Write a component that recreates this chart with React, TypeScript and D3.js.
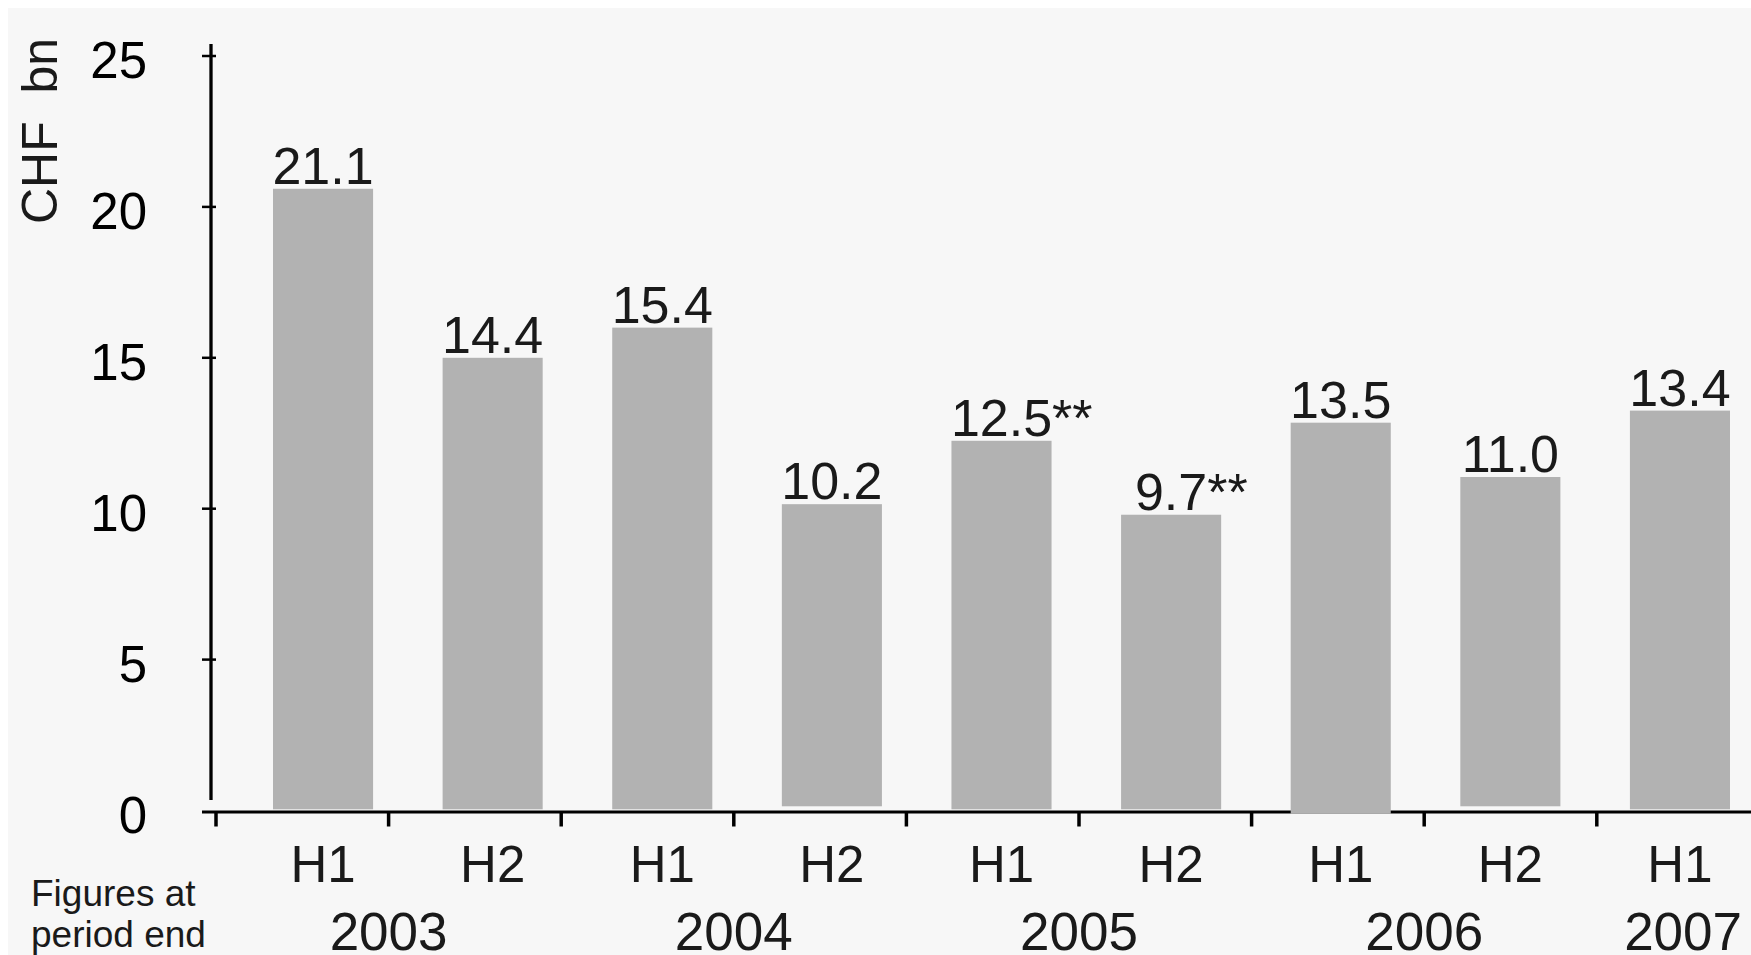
import React from 'react';
import * as d3 from 'd3';

// half-year periods shown on the x axis
const periods = ['H1', 'H2', 'H1', 'H2', 'H1', 'H2', 'H1', 'H2', 'H1'];
const periodYears = ['2003', '2003', '2004', '2004', '2005', '2005', '2006', '2006', '2007'];
const years = ['2003', '2004', '2005', '2006', '2007'];

// printed value labels (and footnote marks)
const valueLabels = ['21.1', '14.4', '15.4', '10.2', '12.5', '9.7', '13.5', '11.0', '13.4'];
const footnotes = ['', '', '', '', '**', '**', '', '', ''];

// bar tops / bottoms as they are drawn in the original (not always equal to the label)
const barHeights = [20.6, 15.0, 16.0, 10.15, 12.25, 9.8, 12.85, 11.05, 13.25];
const barBases = [0, 0, 0, 0.1, 0, 0, -0.15, 0.1, 0];

const yTicks = [0, 5, 10, 15, 20, 25];

const W = 1743;
const H = 947;
const FONT = '"Liberation Sans", Arial, sans-serif';
const TEXT = '#1a1a1a';
const BAR = '#b2b2b2';
const BG = '#f7f7f7';

// rough Arial advance widths for the label characters
const charW = (s: string, size: number) =>
  s.split('').reduce((acc, c) => acc + (c === '.' ? 0.278 : 0.556), 0) * size;

export default function App() {
  const ids = periods.map((_, i) => String(i));

  const y = d3.scaleLinear().domain([0, 25]).range([810.5, 56]);

  const x = d3.scaleBand<string>()
    .domain(ids)
    .range([273, 1730])
    .paddingInner(0.41)
    .paddingOuter(0);

  // category boundaries used for the small ticks under the axis
  const tickX = d3.scaleLinear().domain([0, 9]).range([216, 216 + 9 * 172.6]);

  const yearPos = years.map(yr => {
    const idx = periodYears.map((p, i) => (p === yr ? i : -1)).filter(i => i >= 0);
    const a = d3.min(idx) as number;
    const b = (d3.max(idx) as number) + 1;
    return (tickX(a) + tickX(b)) / 2;
  });

  const labelSize = 52;

  return (
    <div style={{ position: 'fixed', left: 8, top: 8 }}>
      <svg width={W} height={H} viewBox={`8 8 ${W} ${H}`} style={{ display: 'block' }}>
        <rect x={8} y={8} width={W} height={H} fill={BG} />

        {/* axes */}
        <line x1={211} x2={211} y1={44} y2={800} stroke="#000" strokeWidth={3.3} />
        {yTicks.filter(t => t > 0).map(t => (
          <line key={t} x1={202} x2={216} y1={y(t)} y2={y(t)} stroke="#000" strokeWidth={2.5} />
        ))}
        <line x1={202} x2={1751} y1={y(0) + 1.5} y2={y(0) + 1.5} stroke="#000" strokeWidth={3} />
        {d3.range(9).map(k => (
          <line
            key={k}
            x1={tickX(k)}
            x2={tickX(k)}
            y1={y(0) + 2}
            y2={y(0) + 16}
            stroke="#000"
            strokeWidth={3.5}
          />
        ))}

        {/* bars */}
        {ids.map((id, i) => (
          <rect
            key={id}
            x={x(id)}
            y={y(barHeights[i])}
            width={x.bandwidth()}
            height={y(barBases[i]) - 1.2 - y(barHeights[i])}
            fill={BAR}
          />
        ))}

        {/* value labels */}
        {ids.map((id, i) => {
          const cx = (x(id) as number) + x.bandwidth() / 2;
          const by = y(barHeights[i]) - 5;
          return (
            <g key={id} fontFamily={FONT} fontSize={labelSize} fill={TEXT}>
              <text x={cx} y={by} textAnchor="middle">{valueLabels[i]}</text>
              {footnotes[i] && (
                <text x={cx + charW(valueLabels[i], labelSize) / 2} y={by} textAnchor="start">
                  {footnotes[i]}
                </text>
              )}
            </g>
          );
        })}

        {/* y tick labels and unit */}
        {yTicks.map(t => (
          <text
            key={t}
            x={147}
            y={y(t) + 22}
            textAnchor="end"
            fontFamily={FONT}
            fontSize={51}
            fill="#000"
          >
            {t}
          </text>
        ))}
        <text
          transform={`translate(57,131) rotate(-90)`}
          textAnchor="middle"
          fontFamily={FONT}
          fontSize={50}
          fill={TEXT}
          style={{ whiteSpace: 'pre' }}
        >
          {'CHF  bn'}
        </text>

        {/* x labels */}
        {ids.map((id, i) => (
          <text
            key={id}
            x={(x(id) as number) + x.bandwidth() / 2}
            y={882}
            textAnchor="middle"
            fontFamily={FONT}
            fontSize={51}
            fill={TEXT}
          >
            {periods[i]}
          </text>
        ))}
        {years.map((yr, i) => (
          <text
            key={yr}
            x={yearPos[i]}
            y={950}
            textAnchor="middle"
            fontFamily={FONT}
            fontSize={53}
            fill={TEXT}
          >
            {yr}
          </text>
        ))}

        <text x={31} y={906} fontFamily={FONT} fontSize={37} fill={TEXT}>Figures at</text>
        <text x={31} y={947} fontFamily={FONT} fontSize={37} fill={TEXT}>period end</text>
      </svg>
    </div>
  );
}
